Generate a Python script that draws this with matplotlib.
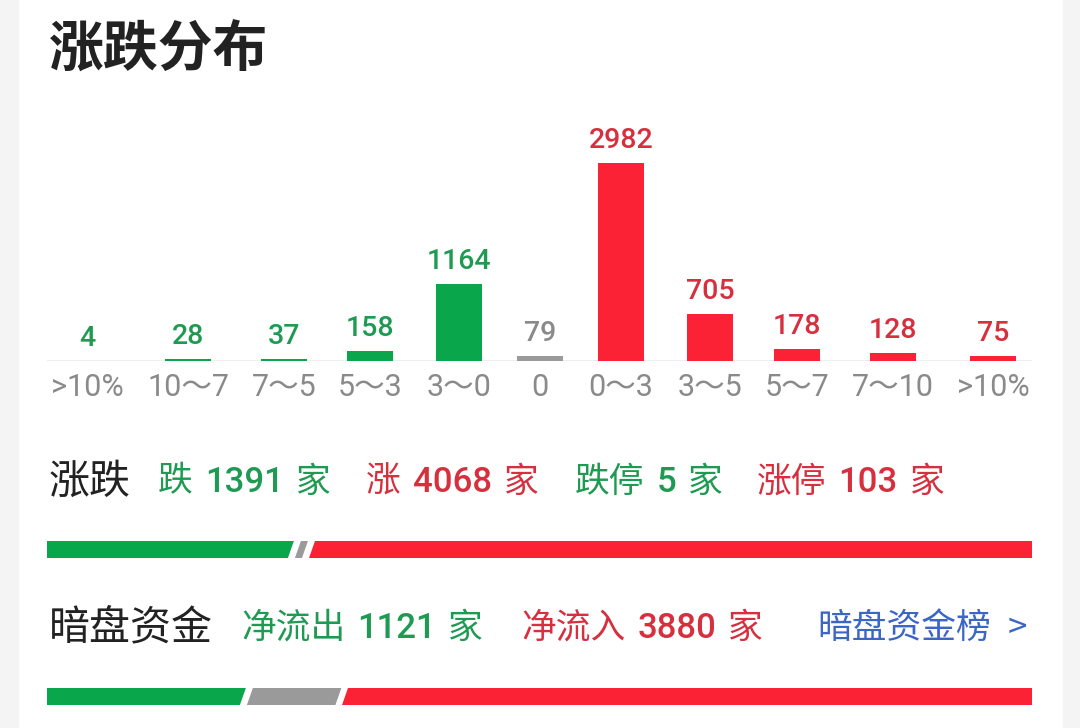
import matplotlib
matplotlib.use("Agg")
import matplotlib.pyplot as plt
from matplotlib.patches import Polygon, Rectangle

plt.rcParams['font.family'] = ['Roboto', 'Noto Sans CJK SC', 'DejaVu Sans']

# --- data ---
bin_labels = ['>10%', '10～7', '7～5', '5～3', '3～0', '0', '0～3', '3～5', '5～7', '7～10', '>10%']
bin_counts = [4, 28, 37, 158, 1164, 79, 2982, 705, 178, 128, 75]

down_count = 1391
flat_count = 79
up_count = 4068
limit_down = 5
limit_up = 103

net_out = 1121
net_in = 3880

# --- layout (pixels of the 1080x728 picture) ---
W, H = 1080, 728
slot_x = [87, 188, 284, 370, 459, 540, 621, 710, 797, 893, 993]
bar_w = 46
x_left, x_right = 47, 1032
base_y, top_y, tallest_top = 361, 130, 163

GREEN = '#0aa64b'
RED = '#fb2235'
GRAY = '#9a9a9a'
TXT_GREEN = '#1f9a52'
TXT_RED = '#d6303f'
TXT_GRAY = '#8a8a8a'
BLUE = '#3b66c6'


def fx(px):
    return px / W


def fy(py):
    return 1 - py / H


fig = plt.figure(figsize=(W / 100, H / 100), dpi=100)
fig.patch.set_facecolor('white')
# grey margins of the screenshot
fig.patches.append(Rectangle((0, 0), fx(18), 1, transform=fig.transFigure, color='#f4f4f4', zorder=0))
fig.patches.append(Rectangle((fx(1063), 0), 1, 1, transform=fig.transFigure, color='#f4f4f4', zorder=0))

fig.text(fx(49), fy(50), '涨跌分布', fontsize=39.5, fontweight='bold', color='#222222',
         va='center', ha='left', family=['Noto Sans CJK SC'])

# --- distribution bars ---
ax = fig.add_axes([fx(x_left), fy(base_y), (x_right - x_left) / W, (base_y - top_y) / H])
ax.set_xlim(x_left, x_right)
ymax = max(bin_counts) * (base_y - top_y) / (base_y - tallest_top)
ax.set_ylim(0, ymax)
bar_colors = [GREEN] * 5 + [GRAY] + [RED] * 5
text_colors = [TXT_GREEN] * 5 + [TXT_GRAY] + [TXT_RED] * 5
ax.bar(slot_x, bin_counts, width=bar_w, color=bar_colors, zorder=3)
ax.axhline(0, color='#ececec', lw=2, zorder=1)
for x, v, c in zip(slot_x, bin_counts, text_colors):
    ax.annotate(str(v), (x, v), xytext=(0, 15), textcoords='offset pixels',
                ha='center', va='baseline', fontsize=20.5, color=c, fontweight='medium')
ax.set_xticks(slot_x)
ax.set_xticklabels(bin_labels, fontsize=22, color=TXT_GRAY)
ax.tick_params(axis='x', length=0, pad=9)
ax.set_yticks([])
for s in ax.spines.values():
    s.set_visible(False)
ax.patch.set_alpha(0)

renderer = fig.canvas.get_renderer()


def text_run(x_px, y_px, pieces, size, gap=12):
    # pieces: (string, color, weight)
    x = x_px
    for s, c, wgt in pieces:
        t = fig.text(fx(x), fy(y_px), s, fontsize=size, color=c, fontweight=wgt,
                     ha='left', va='center')
        bb = t.get_window_extent(renderer)
        x = bb.x1 + gap
    return x


def split_bar(y0, y1, counts, colors):
    total = sum(counts)
    bax = fig.add_axes([fx(x_left), fy(y1), (x_right - x_left) / W, (y1 - y0) / H])
    bax.set_xlim(0, total)
    bax.set_ylim(0, 1)
    bax.axis('off')
    per_px = total / (x_right - x_left)
    gap = 7 * per_px
    slant = 6 * per_px
    start = 0
    for i, (n, c) in enumerate(zip(counts, colors)):
        end = start + n
        if i == 0:
            bl = tl = start
        else:
            bl = start + gap / 2 - slant / 2
            tl = start + gap / 2 + slant / 2
        if i == len(counts) - 1:
            br = tr = end
        else:
            br = end - gap / 2 - slant / 2
            tr = end - gap / 2 + slant / 2
        bax.add_patch(Polygon([(bl, 0), (br, 0), (tr, 1), (tl, 1)], closed=True,
                              color=c, lw=0))
        start = end


STAT = 25

# --- row 1: rise / fall ---
row1_y = 482
fig.text(fx(49), fy(row1_y), '涨跌', fontsize=29.5, color='#222222', ha='left', va='center')
text_run(158, row1_y, [('跌', TXT_GREEN, 'normal'), (str(down_count), TXT_GREEN, 'medium'),
                       ('家', TXT_GREEN, 'normal')], STAT)
text_run(366, row1_y, [('涨', TXT_RED, 'normal'), (str(up_count), TXT_RED, 'medium'),
                       ('家', TXT_RED, 'normal')], STAT)
text_run(575, row1_y, [('跌停', TXT_GREEN, 'normal'), (str(limit_down), TXT_GREEN, 'medium'),
                       ('家', TXT_GREEN, 'normal')], STAT)
text_run(757, row1_y, [('涨停', TXT_RED, 'normal'), (str(limit_up), TXT_RED, 'medium'),
                       ('家', TXT_RED, 'normal')], STAT)
split_bar(541, 558, [down_count, flat_count, up_count], [GREEN, GRAY, RED])

# --- row 2: dark pool money flow ---
row2_y = 628
fig.text(fx(49), fy(row2_y), '暗盘资金', fontsize=29.5, color='#222222', ha='left', va='center')
text_run(241, row2_y, [('净流出', TXT_GREEN, 'normal'), (str(net_out), TXT_GREEN, 'medium'),
                       ('家', TXT_GREEN, 'normal')], STAT)
text_run(521, row2_y, [('净流入', TXT_RED, 'normal'), (str(net_in), TXT_RED, 'medium'),
                       ('家', TXT_RED, 'normal')], STAT)
fig.text(fx(817), fy(row2_y), '暗盘资金榜', fontsize=STAT, color=BLUE, ha='left', va='center')
fig.text(fx(1027), fy(row2_y), '>', fontsize=25, color=BLUE, ha='right', va='center',
         family=['Noto Sans CJK SC'], fontweight='light')
all_stocks = down_count + flat_count + up_count
split_bar(688, 705, [net_out, all_stocks - net_out - net_in, net_in], [GREEN, GRAY, RED])

fig.savefig('out.png', dpi=100, facecolor='white')
